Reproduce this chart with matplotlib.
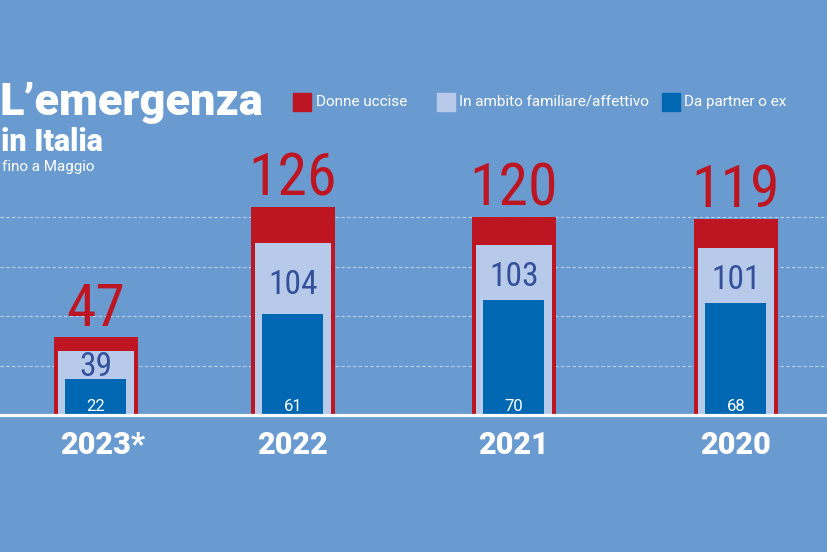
import matplotlib
matplotlib.use('Agg')
from matplotlib import pyplot as plt
from matplotlib.patches import Rectangle
from matplotlib import font_manager

# data
years = ['2023*', '2022', '2021', '2020']
donne_uccise = [47, 126, 120, 119]
ambito_familiare = [39, 104, 103, 101]
partner_ex = [22, 61, 70, 68]
grid_values = [30, 60, 90, 120]

legend_labels = ['Donne uccise', 'In ambito familiare/affettivo', 'Da partner o ex']

# layout (pixels)
bar_centers = [96, 293, 514, 736]
BG = '#6a9bd0'
RED = '#bd1622'
LIGHT = '#b7caea'
BLUE = '#0067b3'
DARK = '#34509b'

W, H = 828, 552
base_px = 137          # baseline height from bottom
scale = 1.65           # px per unit

installed = {f.name for f in font_manager.fontManager.ttflist}
narrow_ok = [f for f in ['Roboto Condensed', 'Liberation Sans Narrow'] if f in installed]
sans = ['Roboto', 'DejaVu Sans']
narrow = narrow_ok + sans
# sizes depend on whether a condensed face exists
big_fs, mid_fs = (43, 24) if narrow_ok else (39, 22)

fig = plt.figure(figsize=(W / 100, H / 100), dpi=100, facecolor=BG)

ax = fig.add_axes([0, 0, 1, 1])
ax.set_facecolor('none')
ax.set_xlim(0, W)
ax.set_ylim(-base_px / scale, (H - base_px) / scale)
ax.axis('off')

# dashed grid
for g in grid_values:
    ax.axhline(g, color='white', alpha=0.55, lw=0.8, dashes=(3, 2.2), zorder=1)

# bars
ax.bar(bar_centers, donne_uccise, width=84, color=RED, zorder=2)
ax.bar(bar_centers, ambito_familiare, width=76, color=LIGHT, zorder=3)
ax.bar(bar_centers, partner_ex, width=61, color=BLUE, zorder=4)

ax.axhline(0, color='white', lw=2.3, zorder=5)

for x, tot, fam, par, yr in zip(bar_centers, donne_uccise, ambito_familiare, partner_ex, years):
    ax.text(x, tot + 7, str(tot), ha='center', va='baseline', color=RED,
            fontsize=big_fs, family=narrow, zorder=6)
    ax.text(x, par + 0.42 * (fam - par), str(fam), ha='center', va='center', color=DARK,
            fontsize=mid_fs, family=narrow, zorder=6)
    ax.text(x, 2.4, str(par), ha='center', va='baseline', color='white',
            fontsize=12, family=sans, zorder=6)
    off = 6.5 if yr.endswith('*') else 0
    ax.annotate(yr, (x, -39 / scale), xytext=(off * 0.72, 0), textcoords='offset points',
                ha='center', va='baseline', color='white', fontsize=22,
                fontweight='black', family=sans, zorder=6)

# overlay in pixel coords for title and legend
ov = fig.add_axes([0, 0, 1, 1])
ov.set_facecolor('none')
ov.set_xlim(0, W)
ov.set_ylim(H, 0)
ov.axis('off')

ov.text(0, 115, 'L\u2019emergenza', color='white', fontsize=32.5, fontweight='black',
        family=sans, ha='left', va='baseline')
ov.text(1, 151, 'in Italia', color='white', fontsize=22, fontweight='black',
        family=sans, ha='left', va='baseline')
ov.text(2, 171, 'fino a Maggio', color='white', fontsize=11, family=sans,
        ha='left', va='baseline')

legend_boxes = [293, 437, 662]
legend_text_x = [316, 459, 684]
for bx, tx, lab, col in zip(legend_boxes, legend_text_x, legend_labels, [RED, LIGHT, BLUE]):
    ov.add_patch(Rectangle((bx, 93), 18, 18, color=col))
    ov.text(tx, 102, lab, color='white', fontsize=11, family=sans, ha='left', va='center')

plt.savefig('out.png', dpi=100, facecolor=BG)
